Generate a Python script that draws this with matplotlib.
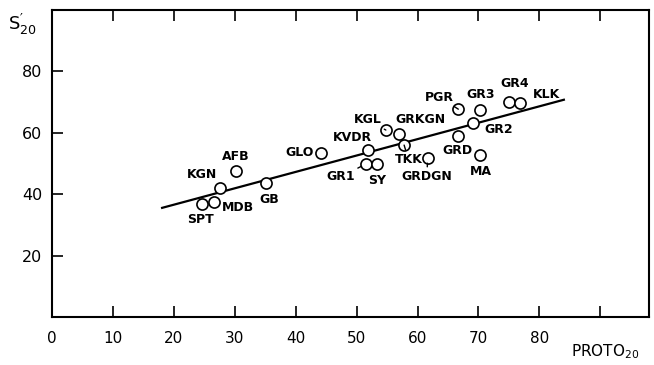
import matplotlib
matplotlib.use("Agg")
import matplotlib.pyplot as plt
import numpy as np

plt.rcParams["font.family"] = ["DejaVu Sans"]
plt.rcParams["mathtext.default"] = "regular"

# Samples: PROTO_20 (x) against S'_20 (y)
names = ["SPT", "MDB", "KGN", "AFB", "GB", "GLO", "KVDR", "GR1", "SY", "KGL",
         "GRKGN", "TKK", "GRDGN", "PGR", "GRD", "GR2", "GR3", "MA", "GR4", "KLK"]
proto20 = [24.7, 26.6, 27.6, 30.2, 35.1, 44.2, 51.8, 51.5, 53.3, 54.8,
           56.9, 57.8, 61.7, 66.7, 66.6, 69.1, 70.3, 70.3, 75.0, 76.8]
s20 = [36.8, 37.6, 41.9, 47.7, 43.7, 53.5, 54.4, 49.8, 50.0, 60.9,
       59.5, 56.0, 51.9, 67.7, 59.1, 63.3, 67.4, 52.8, 70.0, 69.6]

# Label anchor positions (data units) and which labels carry a leader line
label_x = [24.3, 30.6, 24.7, 30.2, 35.7, 40.6, 49.3, 47.4, 53.4, 51.8,
           60.5, 58.5, 61.5, 63.6, 66.6, 73.3, 70.3, 70.4, 76.0, 81.2]
label_y = [31.8, 35.7, 46.3, 52.2, 38.3, 53.5, 58.5, 45.7, 44.4, 64.2,
           64.2, 51.4, 45.9, 71.6, 54.2, 61.1, 72.5, 47.3, 76.1, 72.5]
leader = ["GR1", "KGL", "TKK", "GRDGN", "PGR"]

# Fitted regression line: S'_20 = a + b * PROTO_20
fit_intercept = 25.9
fit_slope = 0.534
fit_range = [17.9, 84.2]

fig = plt.figure(figsize=(6.54, 3.65), dpi=100)
ax = fig.add_axes([52 / 654, 48 / 365, 597 / 654, 307 / 365])

xf = np.array(fit_range)
ax.plot(xf, fit_intercept + fit_slope * xf, color="black", lw=1.6, zorder=2,
        solid_capstyle="butt")

ax.plot(proto20, s20, linestyle="none", marker="o", ms=8.0, mfc="white",
        mec="black", mew=1.2, zorder=3)

label_style = dict(ha="center", va="center", fontsize=9, fontweight="bold",
                   zorder=4)
for n, px, py, lx, ly in zip(names, proto20, s20, label_x, label_y):
    if n in leader:
        ax.annotate(n, xy=(px, py), xytext=(lx, ly),
                    arrowprops=dict(arrowstyle="-", lw=1.0, color="black",
                                    shrinkA=0, shrinkB=4.0),
                    **label_style)
    else:
        ax.text(lx, ly, n, **label_style)

ax.set_xlim(0, 98)
ax.set_ylim(0, 100)
ax.set_xticks(np.arange(0, 100, 10))
ax.set_xticklabels(["0", "10", "20", "30", "40", "50", "60", "70", "80", ""])
ax.set_yticks([20, 40, 60, 80])
ax.set_yticklabels(["20", "40", "60", "80"])

ax.tick_params(axis="x", direction="in", length=8, width=1.2, pad=10,
               labelsize=11, top=True)
ax.tick_params(axis="y", direction="in", length=8, width=1.2, pad=7,
               labelsize=11.5)
ax.xaxis.get_major_ticks()[0].tick1line.set_visible(False)
ax.xaxis.get_major_ticks()[0].tick2line.set_visible(False)
for s in ax.spines.values():
    s.set_linewidth(1.5)

fig.text(8 / 654, 1 - 24 / 365, r"$S^{\prime}_{20}$", fontsize=13,
         ha="left", va="center")
fig.text(571 / 654, 1 - 352 / 365, r"$PROTO_{20}$", fontsize=11, ha="left",
         va="center")

fig.savefig("out.png", dpi=100)
